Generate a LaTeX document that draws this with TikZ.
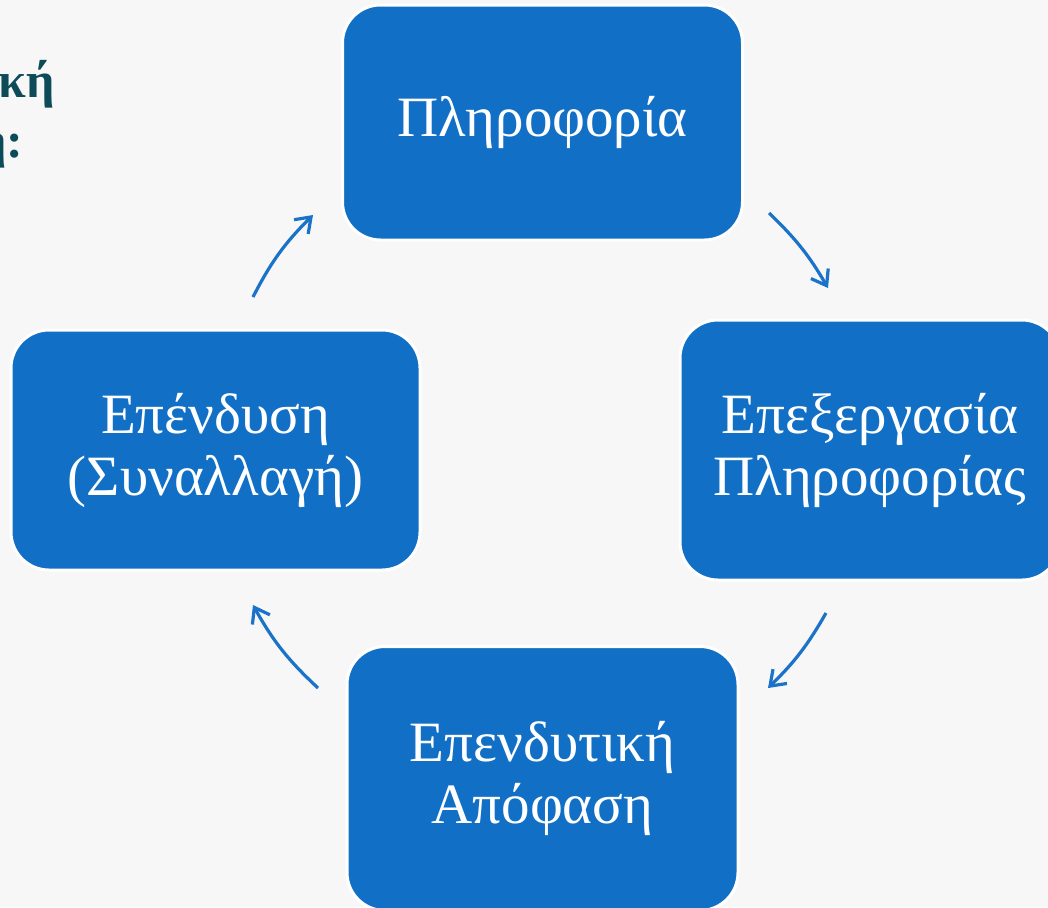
\documentclass[tikz,border=0pt]{standalone}
\usepackage{fontspec}
\setmainfont{Liberation Serif}
\usetikzlibrary{positioning,arrows.meta}
\definecolor{boxblue}{HTML}{1170C5}
\definecolor{arrowblue}{HTML}{1A73C8}
\definecolor{titleteal}{HTML}{0D4B59}
\definecolor{paper}{HTML}{F7F7F7}
\tikzset{
  stage/.style={
    rounded corners=19pt,
    fill=boxblue,
    draw=white,
    line width=1.5pt,
    text=white,
    align=center,
    font=\fontsize{28.5}{31}\selectfont
  },
  cyc/.style={
    arrowblue,
    line width=1.6pt,
    -{Straight Barb[length=7pt,width=10pt]}
  }
}

\begin{document}
\begin{tikzpicture}
      \clip (0,0) rectangle (524pt,-453.5pt);
      \fill[paper] (0,0) rectangle (524pt,-453.5pt);

      % cut title on the left
      \node [anchor=base east, inner sep=0pt, text=titleteal,
             font=\fontsize{25}{28}\selectfont\bfseries] (T1) at (27.5pt,-48.5pt) {κή};
      \node [anchor=base east, inner sep=0pt, text=titleteal,
             font=\fontsize{25}{28}\selectfont\bfseries] (T2) at (12pt,-78.5pt) {η:};

      \node [stage, minimum width=200pt, minimum height=117.5pt] (Info) at (271.25pt,-61.25pt) {Πληροφορία};
      \node [stage, on grid, below right=163.75pt and 163.75pt of Info,
             minimum width=190pt, minimum height=130pt] (Proc) {Επεξεργασία\\Πληροφορίας};
      \node [stage, on grid, below=328pt of Info,
             minimum width=195.5pt, minimum height=132pt] (Dec) {Επενδυτική\\Απόφαση};
      \node [stage, on grid, below left=163.75pt and 163.5pt of Info,
             minimum width=204.5pt, minimum height=120pt] (Inv) {Επένδυση\\(Συναλλαγή)};

      \coordinate (a1s) at (126.5pt,-148.5pt);
      \coordinate (a1e) at (156.5pt,-107.5pt);
      \coordinate (a2s) at (384.5pt,-106.5pt);
      \coordinate (a2e) at (414pt,-144pt);
      \coordinate (a3s) at (413pt,-306.5pt);
      \coordinate (a3e) at (384pt,-344pt);
      \coordinate (a4s) at (159pt,-344pt);
      \coordinate (a4e) at (126.5pt,-302.5pt);

      \draw [cyc] (a1s) to[bend left=9] (a1e);
      \draw [cyc] (a2s) to[bend left=8] (a2e);
      \draw [cyc] (a3s) to[bend left=8] (a3e);
      \draw [cyc] (a4s) to[bend left=9] (a4e);
    \end{tikzpicture}
\end{document}
